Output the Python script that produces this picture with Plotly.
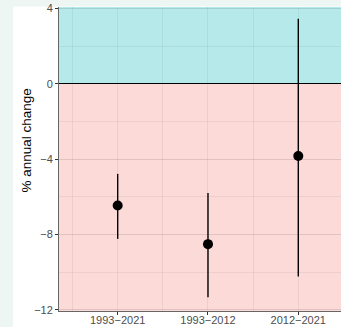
import plotly.graph_objects as go

# ---- data ----
periods = ["1993\u22122021", "1993\u22122012", "2012\u22122021"]
estimate = [-6.46, -8.51, -3.83]
lower = [-8.23, -11.33, -10.23]
upper = [-4.78, -5.80, 3.45]

y_ticks = [-12, -8, -4, 0, 4]
y_tick_labels = ["\u221212", "\u22128", "\u22124", "0", "4"]

x_pos = list(range(len(periods)))
err_plus = [u - e for u, e in zip(upper, estimate)]
err_minus = [e - l for e, l in zip(estimate, lower)]

W, H = 341, 327
ml, mr, mt, mb = 59, 0, 7, 16
pw, ph = W - ml - mr, H - mt - mb

fig = go.Figure()
fig.add_trace(go.Scatter(
    x=x_pos, y=estimate, mode="markers",
    marker=dict(color="black", size=10),
    error_y=dict(type="data", symmetric=False, array=err_plus, arrayminus=err_minus,
                 width=0, thickness=1.4, color="black"),
    showlegend=False, hoverinfo="skip",
))

shapes = [
    # white card behind plot
    dict(type="rect", xref="paper", yref="paper",
         x0=(13 - ml) / pw, x1=1.01, y0=-mb / ph - 0.01, y1=(H - mb - 6.5) / ph,
         fillcolor="white", line=dict(width=0), layer="below"),
    # positive (teal) region
    dict(type="rect", xref="paper", yref="y", x0=0, x1=1, y0=0, y1=50,
         fillcolor="rgb(182,234,234)", line=dict(width=0), layer="below"),
    # negative (pink) region
    dict(type="rect", xref="paper", yref="y", x0=0, x1=1, y0=-50, y1=0,
         fillcolor="rgb(251,218,216)", line=dict(width=0), layer="below"),
]

grid_col = "rgba(0,0,0,0.055)"
fig.update_layout(
    width=W, height=H,
    margin=dict(l=ml, r=mr, t=mt, b=mb, pad=0, autoexpand=False),
    paper_bgcolor="rgb(237,246,243)",
    plot_bgcolor="white",
    shapes=shapes,
    font=dict(family="Liberation Sans, Arial, sans-serif", size=11, color="#4D4D4D"),
    xaxis=dict(
        range=[-0.65, 2.473], automargin=False,
        tickmode="array", tickvals=x_pos, ticktext=periods,
        showgrid=True, gridcolor=grid_col, gridwidth=1,
        minor=dict(tick0=0.5, dtick=1, showgrid=True, gridcolor=grid_col, gridwidth=1, ticks=""),
        ticks="outside", ticklen=3, tickcolor="#333333", tickwidth=1,
        ticklabelstandoff=-4,
        showline=True, linecolor="#666666", linewidth=1,
        zeroline=False, fixedrange=True,
    ),
    yaxis=dict(
        range=[-12.06, 4.08], automargin=False,
        tickmode="array", tickvals=y_ticks, ticktext=y_tick_labels,
        showgrid=True, gridcolor=grid_col, gridwidth=1,
        minor=dict(tick0=0, dtick=2, showgrid=True, gridcolor=grid_col, gridwidth=1, ticks=""),
        ticks="outside", ticklen=3, tickcolor="#333333", tickwidth=1,
        showline=True, linecolor="#666666", linewidth=1,
        zeroline=True, zerolinecolor="black", zerolinewidth=1.3,
        fixedrange=True,
    ),
    annotations=[dict(
        text="% annual change", textangle=-90, showarrow=False,
        xref="paper", yref="paper",
        x=(26 - ml) / pw, y=(H - mb - 140.5) / ph,
        xanchor="center", yanchor="middle",
        font=dict(size=13.5, color="black", family="Liberation Sans, Arial, sans-serif"),
    )],
)

fig.write_html(
    "out.html",
    config={"displayModeBar": False},
    post_script="document.body.style.margin='0';document.body.style.padding='0';"
                "document.body.style.overflow='hidden';"
                "document.documentElement.style.overflow='hidden';",
)
